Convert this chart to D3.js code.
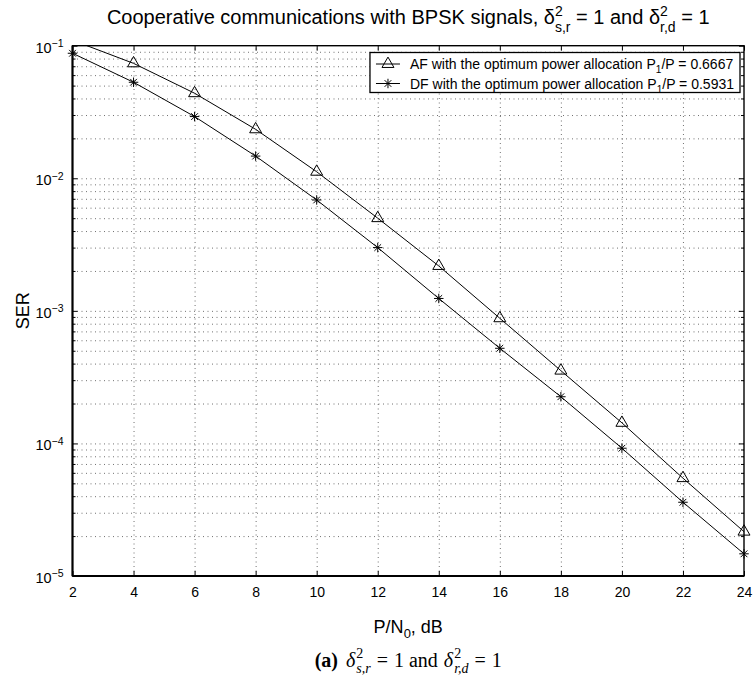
<!DOCTYPE html>
<html>
<head>
<meta charset="utf-8">
<script src="https://cdn.jsdelivr.net/npm/d3@7"></script>
<style>
  html, body { margin: 0; padding: 0; background: #fff; }
  svg { display: block; }
  text { font-family: "Liberation Sans", Arial, Helvetica, sans-serif; fill: #000; }
</style>
</head>
<body>
<svg id="chart" width="754" height="678"></svg>
<script>
// ---------------- data ----------------
const snrDb = [2, 4, 6, 8, 10, 12, 14, 16, 18, 20, 22, 24];
const afSER = [0.110, 0.0736, 0.0438, 0.0234, 0.0112, 0.0050, 0.00218, 0.000879, 0.000354, 0.000143, 0.0000547, 0.0000216];
const dfSER = [0.0877, 0.0530, 0.0292, 0.0147, 0.00686, 0.00300, 0.00124, 0.000522, 0.000225, 0.0000920, 0.0000360, 0.0000147];
const xTicks = [2, 4, 6, 8, 10, 12, 14, 16, 18, 20, 22, 24];
const yTickExponents = [-1, -2, -3, -4, -5];
const seriesNames = ["AF", "DF"];
const legendRatios = ["0.6667", "0.5931"];

// ---------------- layout ----------------
const plot = { left: 72.5, right: 744, top: 45.7, bottom: 576 };
const svg = d3.select("#chart");

const x = d3.scaleLinear().domain([2, 24]).range([plot.left, plot.right]);
const y = d3.scaleLog().domain([1e-5, 1e-1]).range([plot.bottom, plot.top]);

const majorY = yTickExponents.map(e => Math.pow(10, e));
const minorY = [];
for (let e = -5; e < -1; e++) for (let m = 2; m <= 9; m++) minorY.push(m * Math.pow(10, e));

svg.append("defs").append("clipPath").attr("id", "clip")
  .append("rect").attr("x", plot.left).attr("y", plot.top)
  .attr("width", plot.right - plot.left).attr("height", plot.bottom - plot.top);

// ---------------- grid ----------------
const grid = svg.append("g").attr("class", "grid");
const gridStyle = sel => sel.selectAll("line")
  .attr("stroke", "#333").attr("stroke-width", 0.7).attr("stroke-dasharray", "1,3.5");

grid.append("g").attr("transform", `translate(0,${plot.bottom})`)
  .call(d3.axisBottom(x).tickValues(xTicks.slice(1, -1)).tickSize(-(plot.bottom - plot.top)).tickFormat(""))
  .call(g => g.select(".domain").remove()).call(gridStyle);
grid.append("g").attr("transform", `translate(${plot.left},0)`)
  .call(d3.axisLeft(y).tickValues(majorY.slice(1, -1).concat(minorY)).tickSize(-(plot.right - plot.left)).tickFormat(""))
  .call(g => g.select(".domain").remove()).call(gridStyle);

// ---------------- axes ----------------
const axisStyle = g => {
  g.select(".domain").remove();
  g.selectAll("line").attr("stroke", "#000").attr("stroke-width", 1);
};
const xAxis = svg.append("g").attr("transform", `translate(0,${plot.bottom})`)
  .call(d3.axisBottom(x).tickValues(xTicks).tickSize(-5).tickPadding(11).tickFormat(d3.format("d")))
  .call(axisStyle);
xAxis.selectAll("text").attr("font-size", 14).attr("font-family", '"Liberation Sans", Arial, sans-serif');

svg.append("g").attr("transform", `translate(0,${plot.top})`)
  .call(d3.axisTop(x).tickValues(xTicks).tickSize(-5).tickFormat("")).call(axisStyle);

const yAxis = svg.append("g").attr("transform", `translate(${plot.left},0)`)
  .call(d3.axisLeft(y).tickValues(majorY).tickSize(-5).tickPadding(10).tickFormat(() => ""))
  .call(axisStyle);
yAxis.selectAll(".tick text").each(function(d) {
  const t = d3.select(this);
  t.attr("font-size", 14.5).attr("font-family", '"Liberation Sans", Arial, sans-serif').attr("dy", "0.45em").attr("text-anchor", "start");
  t.append("tspan").text("10");
  t.append("tspan").attr("dy", "-0.55em").attr("font-size", 10.5).text("\u2212" + Math.abs(Math.round(Math.log10(d))));
});
yAxis.selectAll(".tick text").each(function() {
  const len = this.getComputedTextLength();
  d3.select(this).attr("x", -9 - len);
});
svg.append("g").attr("transform", `translate(${plot.left},0)`)
  .call(d3.axisLeft(y).tickValues(minorY).tickSize(-3).tickFormat("")).call(axisStyle);
svg.append("g").attr("transform", `translate(${plot.right},0)`)
  .call(d3.axisRight(y).tickValues(majorY).tickSize(-5).tickFormat("")).call(axisStyle);
svg.append("g").attr("transform", `translate(${plot.right},0)`)
  .call(d3.axisRight(y).tickValues(minorY).tickSize(-3).tickFormat("")).call(axisStyle);

// frame
svg.append("rect").attr("x", plot.left).attr("y", plot.top)
  .attr("width", plot.right - plot.left).attr("height", plot.bottom - plot.top)
  .attr("fill", "none").attr("stroke", "#000").attr("stroke-width", 1.4);
svg.append("line").attr("x1", plot.left).attr("x2", plot.left).attr("y1", plot.top).attr("y2", plot.bottom)
  .attr("stroke", "#000").attr("stroke-width", 2);
svg.append("line").attr("x1", plot.left).attr("x2", plot.right).attr("y1", plot.bottom).attr("y2", plot.bottom)
  .attr("stroke", "#000").attr("stroke-width", 2);

// ---------------- series ----------------
const asterisk = {
  draw(ctx, size) {
    const r = Math.sqrt(size) / 2, d = r * Math.SQRT1_2;
    ctx.moveTo(-r, 0); ctx.lineTo(r, 0);
    ctx.moveTo(0, -r); ctx.lineTo(0, r);
    ctx.moveTo(-d, -d); ctx.lineTo(d, d);
    ctx.moveTo(-d, d); ctx.lineTo(d, -d);
  }
};
const triangleSym = d3.symbol().type(d3.symbolTriangle).size(62);
const starSym = d3.symbol().type(asterisk).size(90);

const line = d3.line().x((d, i) => x(snrDb[i])).y(d => y(d));
const series = [
  { name: seriesNames[0], values: afSER, sym: triangleSym },
  { name: seriesNames[1], values: dfSER, sym: starSym }
];
const dataG = svg.append("g").attr("clip-path", "url(#clip)");
series.forEach(s => {
  dataG.append("path").datum(s.values).attr("d", line)
    .attr("fill", "none").attr("stroke", "#000").attr("stroke-width", 1);
  svg.append("g").selectAll("path").data(s.values.map((v, i) => [snrDb[i], v]).filter(p => p[1] <= 0.1))
    .join("path")
    .attr("transform", p => `translate(${x(p[0])},${y(p[1])})`)
    .attr("d", s.sym())
    .attr("fill", "none").attr("stroke", "#000").attr("stroke-width", 1);
});

// ---------------- legend ----------------
const legFont = 14;
const legRight = plot.right - 4, legTop = 52.5, rowH = 19.5;
const legG = svg.append("g");
const legBox = legG.append("rect").attr("fill", "#fff").attr("stroke", "#000").attr("stroke-width", 1.3);
const legTexts = [];
series.forEach((s, i) => {
  const t = legG.append("text").attr("font-size", legFont).attr("y", legTop + 11.5 + i * rowH + 5);
  t.append("tspan").text(`${s.name} with the optimum power allocation P`);
  t.append("tspan").attr("dy", 4).attr("font-size", legFont * 0.72).text("1");
  t.append("tspan").attr("dy", -4).text(`/P = ${legendRatios[i]}`);
  legTexts.push(t);
});
const maxLen = d3.max(legTexts, t => t.node().getComputedTextLength());
const legLeft = legRight - maxLen - 46;
legBox.attr("x", legLeft).attr("y", legTop).attr("width", legRight - legLeft).attr("height", rowH * 2 + 1);
legTexts.forEach(t => t.attr("x", legLeft + 40));
series.forEach((s, i) => {
  const cy = legTop + 11.5 + i * rowH;
  legG.append("line").attr("x1", legLeft + 6).attr("x2", legLeft + 30).attr("y1", cy).attr("y2", cy)
    .attr("stroke", "#000").attr("stroke-width", 1);
  legG.append("path").attr("transform", `translate(${legLeft + 18},${cy})`).attr("d", s.sym())
    .attr("fill", "none").attr("stroke", "#000");
});

// ---------------- titles ----------------
const cx = (plot.left + plot.right) / 2;
function deltaTerm(t, sub, fs) {
  t.append("tspan").text("\u03b4");
  t.append("tspan").attr("dy", -8).attr("font-size", fs * 0.7).text("2");
  t.append("tspan").attr("dx", -fs * 0.7 * 0.556).attr("dy", 16).attr("font-size", fs * 0.7).text(sub);
}
const titleFs = 20;
const title = svg.append("text").attr("x", cx).attr("y", 24).attr("text-anchor", "middle").attr("font-size", titleFs);
title.append("tspan").text("Cooperative communications with BPSK signals, ");
deltaTerm(title, "s,r", titleFs);
title.append("tspan").attr("dy", -8).text(" = 1 and ");
deltaTerm(title, "r,d", titleFs);
title.append("tspan").attr("dy", -8).text(" = 1");

const xl = svg.append("text").attr("x", cx).attr("y", 633).attr("text-anchor", "middle").attr("font-size", 18);
xl.append("tspan").text("P/N");
xl.append("tspan").attr("dy", 5).attr("font-size", 13).text("0");
xl.append("tspan").attr("dy", -5).text(", dB");

svg.append("text").attr("transform", `translate(29,${(plot.top + plot.bottom) / 2}) rotate(-90)`)
  .attr("text-anchor", "middle").attr("font-size", 18).text("SER");

// caption (serif, LaTeX-like)
const capFs = 20;
const cap = svg.append("text").attr("x", cx).attr("y", 667).attr("text-anchor", "middle")
  .attr("font-size", capFs).style("font-family", '"Liberation Serif", "DejaVu Serif", serif');
cap.append("tspan").attr("font-weight", "bold").text("(a)");
function capDelta(sub, lead) {
  cap.append("tspan").attr("dx", lead).attr("font-style", "italic").text("\u03b4");
  cap.append("tspan").attr("dx", 1).attr("dy", -9).attr("font-size", capFs * 0.7).text("2");
  cap.append("tspan").attr("dx", -capFs * 0.7 * 0.5).attr("dy", 15).attr("font-size", capFs * 0.7).attr("font-style", "italic").text(sub);
}
capDelta("s,r", 8);
cap.append("tspan").attr("dx", 6).attr("dy", -6).text("=");
cap.append("tspan").attr("dx", 6).text("1 and");
capDelta("r,d", 6);
cap.append("tspan").attr("dx", 6).attr("dy", -6).text("=");
cap.append("tspan").attr("dx", 6).text("1");
</script>
</body>
</html>
